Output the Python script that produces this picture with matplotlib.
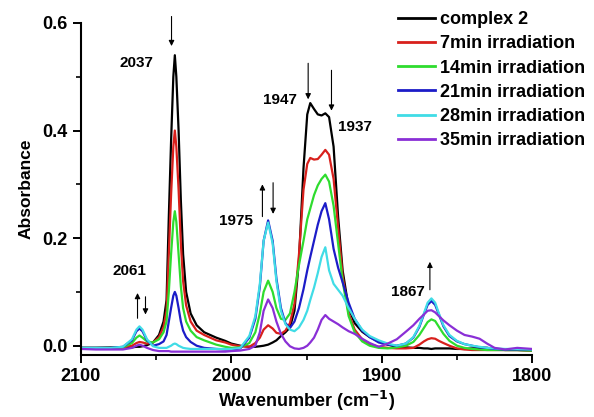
import matplotlib
matplotlib.use('Agg')
import matplotlib.pyplot as plt

# wavenumber grid (cm-1)
wavenumber = [2100, 2090, 2080, 2072, 2066, 2063, 2061, 2059, 2056, 2052,
              2048, 2045, 2043, 2041.5, 2040, 2038.5, 2037.5, 2036.5, 2035, 2033.5,
              2032, 2030, 2027, 2023, 2018, 2010, 2004, 2000, 1994, 1988,
              1984, 1981, 1978.5, 1975.5, 1972.5, 1970, 1967, 1964, 1961, 1958,
              1955, 1952, 1949.5, 1947.5, 1945, 1942.5, 1940, 1937.5, 1935, 1932,
              1929, 1926, 1922, 1918, 1913, 1908, 1902, 1896, 1890, 1884,
              1879, 1875, 1872, 1869.5, 1867, 1864.5, 1862, 1859, 1855, 1850,
              1845, 1840, 1835, 1830, 1825, 1818, 1810, 1800]

complex2 = [-0.004, -0.004, -0.003, -0.003, -0.003, -0.002, -0.002, -0.001, 0.001, 0.006,
            0.02, 0.045, 0.085, 0.24, 0.38, 0.50, 0.54, 0.50, 0.40, 0.27,
            0.17, 0.10, 0.06, 0.038, 0.025, 0.015, 0.009, 0.004, 0.0, -0.002,
            -0.002, -0.001, 0.0, 0.002, 0.006, 0.01, 0.018, 0.025, 0.034, 0.065,
            0.16, 0.33, 0.43, 0.451, 0.44, 0.43, 0.428, 0.432, 0.425, 0.37,
            0.24, 0.14, 0.07, 0.042, 0.026, 0.016, 0.008, 0.002, -0.002, -0.003,
            -0.004, -0.004, -0.005, -0.005, -0.006, -0.005, -0.005, -0.005, -0.005, -0.006,
            -0.006, -0.005, -0.004, -0.004, -0.006, -0.008, -0.008, -0.009]

irr7 = [-0.004, -0.004, -0.004, -0.003, 0.0, 0.005, 0.007, 0.006, 0.004, 0.006,
        0.016, 0.035, 0.065, 0.17, 0.28, 0.37, 0.40, 0.37, 0.29, 0.19,
        0.12, 0.075, 0.045, 0.028, 0.02, 0.01, 0.006, 0.002, -0.001, -0.002,
        0.005, 0.015, 0.03, 0.038, 0.032, 0.024, 0.022, 0.028, 0.042, 0.078,
        0.17, 0.29, 0.338, 0.349, 0.346, 0.347, 0.355, 0.364, 0.355, 0.31,
        0.22, 0.13, 0.06, 0.03, 0.012, 0.003, -0.002, -0.004, -0.005, -0.005,
        -0.004, 0.002, 0.008, 0.012, 0.014, 0.013, 0.009, 0.005, 0.0, -0.005,
        -0.007, -0.008, -0.008, -0.008, -0.008, -0.008, -0.008, -0.009]

irr14 = [-0.004, -0.004, -0.004, -0.003, 0.005, 0.015, 0.019, 0.015, 0.008, 0.006,
         0.012, 0.025, 0.045, 0.10, 0.17, 0.23, 0.25, 0.23, 0.17, 0.11,
         0.07, 0.045, 0.028, 0.016, 0.01, 0.002, -0.002, -0.004, -0.003, 0.005,
         0.025, 0.06, 0.10, 0.121, 0.10, 0.07, 0.05, 0.048, 0.06, 0.10,
         0.15, 0.195, 0.235, 0.255, 0.28, 0.298, 0.31, 0.318, 0.305, 0.26,
         0.19, 0.12, 0.055, 0.025, 0.008, 0.0, -0.004, -0.005, -0.003, 0.0,
         0.007, 0.02, 0.033, 0.044, 0.049, 0.046, 0.035, 0.022, 0.009, 0.0,
         -0.004, -0.006, -0.007, -0.008, -0.008, -0.008, -0.008, -0.009]

irr21 = [-0.004, -0.004, -0.004, -0.002, 0.010, 0.027, 0.032, 0.027, 0.010, 0.0,
         0.003, 0.008, 0.02, 0.045, 0.07, 0.093, 0.10, 0.093, 0.07, 0.045,
         0.028, 0.016, 0.007, 0.0, -0.004, -0.006, -0.007, -0.007, -0.005, 0.015,
         0.05, 0.11, 0.195, 0.233, 0.195, 0.125, 0.07, 0.042, 0.033, 0.045,
         0.07, 0.105, 0.14, 0.165, 0.195, 0.225, 0.25, 0.265, 0.235, 0.18,
         0.145, 0.118, 0.08, 0.05, 0.028, 0.016, 0.006, 0.002, 0.0, 0.004,
         0.015, 0.035, 0.058, 0.076, 0.083, 0.076, 0.058, 0.036, 0.018, 0.008,
         0.003, 0.0, -0.003, -0.004, -0.006, -0.007, -0.007, -0.007]

irr28 = [-0.004, -0.004, -0.004, -0.002, 0.012, 0.030, 0.036, 0.030, 0.012, -0.001,
         -0.004, -0.004, -0.004, -0.002, 0.0, 0.003, 0.004, 0.003, 0.0, -0.002,
         -0.004, -0.005, -0.006, -0.006, -0.006, -0.006, -0.006, -0.006, -0.004, 0.018,
         0.055, 0.115, 0.195, 0.229, 0.19, 0.12, 0.065, 0.04, 0.03, 0.027,
         0.034, 0.048, 0.065, 0.085, 0.108, 0.135, 0.165, 0.183, 0.14, 0.115,
         0.104, 0.093, 0.07, 0.05, 0.03, 0.018, 0.01, 0.004, 0.0, 0.004,
         0.016, 0.037, 0.06, 0.08, 0.088, 0.08, 0.06, 0.038, 0.02, 0.009,
         0.003, 0.0, -0.002, -0.004, -0.005, -0.006, -0.006, -0.007]

irr35 = [-0.006, -0.007, -0.007, -0.007, -0.004, 0.0, 0.002, 0.0, -0.004, -0.008,
         -0.010, -0.010, -0.010, -0.010, -0.011, -0.011, -0.011, -0.011, -0.011, -0.011,
         -0.011, -0.011, -0.011, -0.011, -0.011, -0.011, -0.011, -0.010, -0.009, -0.006,
         0.0, 0.025, 0.065, 0.086, 0.07, 0.045, 0.022, 0.008, -0.001, -0.005,
         -0.006, -0.004, 0.0, 0.006, 0.015, 0.03, 0.048, 0.057, 0.05, 0.045,
         0.04, 0.034, 0.027, 0.022, 0.013, 0.005, -0.002, 0.004, 0.012, 0.026,
         0.038, 0.05, 0.058, 0.065, 0.066, 0.062, 0.055, 0.047, 0.038, 0.028,
         0.02, 0.017, 0.013, 0.004, -0.004, -0.007, -0.004, -0.006]

labels = ['complex 2', '7min irradiation', '14min irradiation',
          '21min irradiation', '28min irradiation', '35min irradiation']
colors = ['#000000', '#d8201c', '#2edc2e', '#1c1cc8', '#40dce6', '#8a2fd6']

# peak labels and arrows (wavenumber, absorbance)
peak_text = [('2037', 2062.8, 0.526), ('2061', 2067.4, 0.139), ('1975', 1996.6, 0.231),
             ('1947', 1967.8, 0.457), ('1937', 1918.0, 0.407), ('1867', 1882.5, 0.100)]
# (x, tail y, head y)
arrows = [(2039.7, 0.612, 0.557), (2062.3, 0.051, 0.098), (2057.0, 0.091, 0.058),
          (1979.3, 0.240, 0.300), (1972.2, 0.303, 0.245), (1948.9, 0.525, 0.458),
          (1933.4, 0.512, 0.437), (1868.0, 0.104, 0.156)]

plt.rcParams['font.family'] = ['Liberation Sans', 'DejaVu Sans']
plt.rcParams['font.weight'] = 'bold'

fig = plt.figure(figsize=(5.94, 4.17), dpi=100)
ax = fig.add_axes([0.136, 0.149, 0.760, 0.796])

series = [complex2, irr7, irr14, irr21, irr28, irr35]
for ys, lab, col in zip(series, labels, colors):
    assert len(ys) == len(wavenumber)
    ax.plot(wavenumber, ys, color=col, lw=1.6, label=lab)

ax.set_xlim(2100, 1800)
ax.set_ylim(-0.017, 0.6)
ax.set_xticks([2100, 2000, 1900, 1800])
ax.set_xticks([2050, 1950, 1850], minor=True)
ax.set_yticks([0.0, 0.2, 0.4, 0.6])
ax.set_yticks([0.1, 0.3, 0.5], minor=True)
ax.set_yticklabels(['0.0', '0.2', '0.4', '0.6'])
ax.tick_params(which='major', length=6, width=1.4, labelsize=13, direction='out')
ax.tick_params(which='minor', length=3.5, width=1.2, direction='out')
for lbl in ax.get_xticklabels() + ax.get_yticklabels():
    lbl.set_fontweight('bold')
for side in ['top', 'right']:
    ax.spines[side].set_visible(False)
for side in ['left', 'bottom']:
    ax.spines[side].set_linewidth(1.5)

ax.set_xlabel('Wavenumber (cm$^{\\mathbf{-1}}$)', fontsize=13, fontweight='bold', labelpad=3)
ax.set_ylabel('Absorbance', fontsize=12.5, fontweight='bold', labelpad=6)

for txt, x, y in peak_text:
    ax.text(x, y, txt, fontsize=11, fontweight='bold', ha='center', va='center')
for x, y0, y1 in arrows:
    ax.annotate('', xy=(x, y1), xytext=(x, y0), annotation_clip=False,
                arrowprops=dict(arrowstyle='-|>', color='k', lw=0.8,
                                mutation_scale=8, shrinkA=0, shrinkB=0))

leg = fig.legend(loc='upper left', bbox_to_anchor=(0.664, 0.982), frameon=False,
                 fontsize=13, handlelength=2.05, handletextpad=0.25,
                 labelspacing=0.4, borderaxespad=0.0, borderpad=0.2)
for t in leg.get_texts():
    t.set_fontweight('bold')
for h in leg.legend_handles:
    h.set_linewidth(2)

fig.savefig('out.png', dpi=100)
